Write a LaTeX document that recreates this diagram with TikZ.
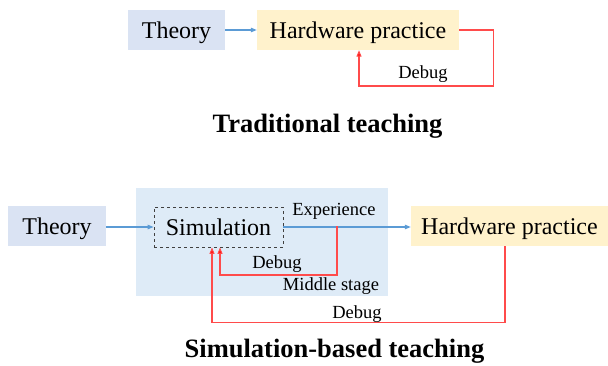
\documentclass[tikz,border=0pt]{standalone}
\usepackage{fontspec}
\setmainfont{Liberation Serif}
\usetikzlibrary{arrows.meta}

\definecolor{theoryfill}{HTML}{DAE3F3}
\definecolor{hwfill}{HTML}{FFF2CC}
\definecolor{stagefill}{HTML}{DEEBF7}
\definecolor{flowblue}{HTML}{5B9BD5}
\definecolor{debugred}{HTML}{FF4B4B}

\begin{document}
\begin{tikzpicture}[x=1pt,y=-1pt,
        box/.style={inner sep=0pt,minimum height=40pt,text depth=0pt,font=\fontsize{24}{28}\selectfont},
        lbl/.style={inner sep=0pt,font=\fontsize{18.5}{22}\selectfont},
        heading/.style={inner sep=0pt,font=\fontsize{26.5}{30}\selectfont\bfseries},
        flow/.style={flowblue,line width=1.1pt,-{Triangle[length=6pt,width=4.5pt]}},
        debug/.style={debugred,line width=1.1pt,-{Triangle[length=6.5pt,width=5pt,fill=red]}}]

    \useasboundingbox (0,0) rectangle (608,365);

    %\draw [help lines,step=20] (0,0) grid (608,365);

    % traditional
    \path   (176.5,30) node (th1) [box,fill=theoryfill,minimum width=97pt] {Theory}
            (358,30)   node (hw1) [box,fill=hwfill,minimum width=202pt] {Hardware practice}
            (423,74)   node (dbg1) [lbl] {Debug}
            (327.5,126) node (t1) [heading] {Traditional teaching};

    \draw[flow]  (th1) -- (hw1);
    \draw[debug] (hw1.east) -- ++(34,0) -- ++(0,56) -| ([xshift=1pt]hw1.south);

    % simulation based
    \path   (262,242)  node (mid) [fill=stagefill,minimum width=252pt,minimum height=108pt,inner sep=0pt] {}
            (57,226)   node (th2) [box,fill=theoryfill,minimum width=98pt] {Theory}
            (218.5,227) node (sim) [box,draw=black!75,dashed,line width=0.8pt,minimum width=129pt] {Simulation}
            (509.5,226) node (hw2) [box,fill=hwfill,minimum width=197pt] {Hardware practice}
            (334,211)  node (exp) [lbl] {Experience}
            (277,264)  node (dbg2) [lbl] {Debug}
            (331,286)  node (ms) [lbl] {Middle stage}
            (357,314)  node (dbg3) [lbl] {Debug}
            (334.5,351) node (t2) [heading] {Simulation-based teaching};

    \coordinate (tap) at (337,226);

    \draw[flow]  (th2.east |- sim) -- (sim.west);
    \draw[flow]  (sim.east) -- (hw2.west |- sim);
    \draw[debug] (tap) -- ++(0,49) -| ([xshift=1.5pt]sim.south);
    \draw[debug] ([xshift=-4.5pt]hw2.south) -- ++(0,76) -| ([xshift=-6.5pt]sim.south);

\end{tikzpicture}
\end{document}
